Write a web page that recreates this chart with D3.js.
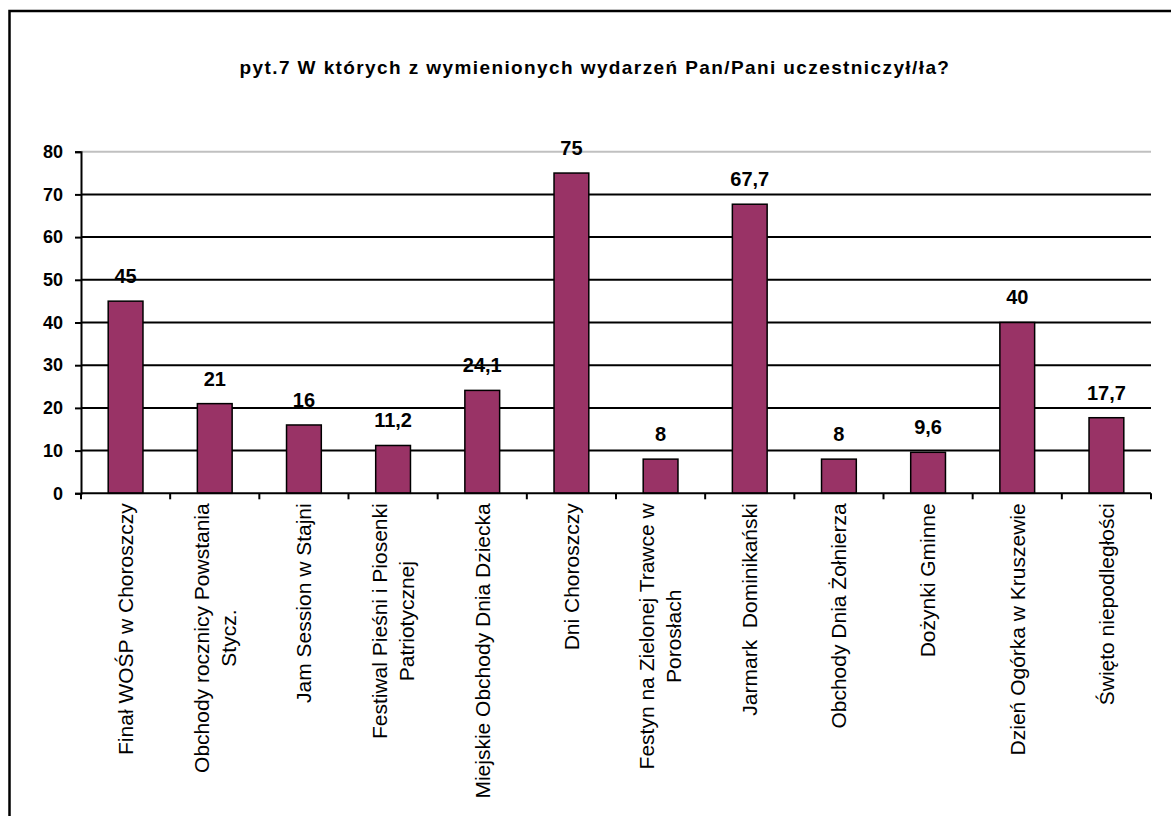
<!DOCTYPE html>
<html>
<head>
<meta charset="utf-8">
<script src="https://cdn.jsdelivr.net/npm/d3@7"></script>
<style>
  body { margin: 0; background: #fff; }
  svg { display: block; font-family: "Liberation Sans", Arial, sans-serif; }
</style>
</head>
<body>
<script>
// data
const titleText = 'pyt.7 W których z wymienionych wydarzeń Pan/Pani uczestniczył/ła?';
const categories = [
  ['Finał WOŚP w Choroszczy'],
  ['Obchody rocznicy Powstania', 'Stycz.'],
  ['Jam Session w Stajni'],
  ['Festiwal Pieśni i Piosenki', 'Patriotycznej'],
  ['Miejskie Obchody Dnia Dziecka'],
  ['Dni Choroszczy'],
  ['Festyn na Zielonej Trawce w', 'Porosłach'],
  ['Jarmark  Dominikański'],
  ['Obchody Dnia Żołnierza'],
  ['Dożynki Gminne'],
  ['Dzień Ogórka w Kruszewie'],
  ['Święto niepodległości']
];
const values = [45, 21, 16, 11.2, 24.1, 75, 8, 67.7, 8, 9.6, 40, 17.7];
const yTicks = [0, 10, 20, 30, 40, 50, 60, 70, 80];

const width = 1171, height = 816;
const margin = {left: 81, top: 151.7};
const plotW = 1151 - margin.left;
const plotH = 493.3 - margin.top;

const svg = d3.select('body').append('svg')
  .attr('width', width)
  .attr('height', height);

// outer frame (only left/top visible)
svg.append('rect')
  .attr('x', 9.5).attr('y', 11)
  .attr('width', 1300).attr('height', 1000)
  .attr('fill', 'none')
  .attr('stroke', '#000')
  .attr('stroke-width', 2.5);

svg.append('text')
  .attr('x', 595).attr('y', 74)
  .attr('text-anchor', 'middle')
  .style('font-size', '19px')
  .style('font-weight', 'bold')
  .style('letter-spacing', '1.4px')
  .text(titleText);

const x = d3.scaleBand()
  .domain(d3.range(categories.length))
  .range([0, plotW])
  .paddingInner(0.61)
  .paddingOuter(0.305);

const y = d3.scaleLinear().domain([0, 80]).range([plotH, 0]);

const g = svg.append('g').attr('transform', 'translate(' + margin.left + ',' + margin.top + ')');

// gridlines
g.selectAll('.grid')
  .data(yTicks.filter(d => d > 0))
  .enter().append('line')
  .attr('x1', 0).attr('x2', plotW)
  .attr('y1', d => y(d)).attr('y2', d => y(d))
  .attr('stroke', d => d === 80 ? '#c0c0c0' : '#000')
  .attr('stroke-width', 2);

// bars
g.selectAll('.bar')
  .data(values)
  .enter().append('rect')
  .attr('x', (d, i) => x(i))
  .attr('y', d => y(d))
  .attr('width', x.bandwidth())
  .attr('height', d => plotH - y(d))
  .attr('fill', '#993366')
  .attr('stroke', '#000')
  .attr('stroke-width', 1.5);

// value labels
g.selectAll('.val')
  .data(values)
  .enter().append('text')
  .attr('x', (d, i) => x(i) + x.bandwidth() / 2)
  .attr('y', d => y(d) - 18)
  .attr('text-anchor', 'middle')
  .style('font-size', '20px')
  .style('font-weight', 'bold')
  .text(d => String(d).replace('.', ','));

// y axis
const yAxis = g.append('g')
  .call(d3.axisLeft(y).tickValues(yTicks).tickSize(6).tickPadding(12).tickFormat(d3.format('d')));
yAxis.select('.domain').attr('stroke-width', 2);
yAxis.selectAll('.tick line').attr('stroke-width', 2);
yAxis.selectAll('text')
  .style('font-size', '18px')
  .style('font-weight', 'bold')
  .style('font-family', '"Liberation Sans", Arial, sans-serif')
  .attr('fill', '#000');

// x axis with ticks at category boundaries
const step = plotW / categories.length;
const xAxis = g.append('g').attr('transform', 'translate(0,' + plotH + ')');
xAxis.append('line')
  .attr('x1', 0).attr('x2', plotW)
  .attr('stroke', '#000').attr('stroke-width', 2);
xAxis.selectAll('.xtick')
  .data(d3.range(categories.length + 1))
  .enter().append('line')
  .attr('x1', d => d * step).attr('x2', d => d * step)
  .attr('y1', 0).attr('y2', 6)
  .attr('stroke', '#000').attr('stroke-width', 2);

// rotated category labels
const lab = xAxis.selectAll('.xlab')
  .data(categories)
  .enter().append('g')
  .attr('transform', (d, i) => 'translate(' + (x(i) + x.bandwidth() / 2) + ',10) rotate(-90)');

lab.each(function(lines) {
  const grp = d3.select(this);
  const lineH = 27;
  const texts = lines.map((t, k) => grp.append('text')
    .attr('y', (k - (lines.length - 1) / 2) * lineH)
    .attr('dy', '0.35em')
    .attr('text-anchor', 'middle')
    .style('font-size', '21px')
    .style('white-space', 'pre')
    .text(t));
  const maxLen = d3.max(texts, t => t.node().getComputedTextLength());
  texts.forEach(t => t.attr('x', -maxLen / 2));
});
</script>
</body>
</html>
